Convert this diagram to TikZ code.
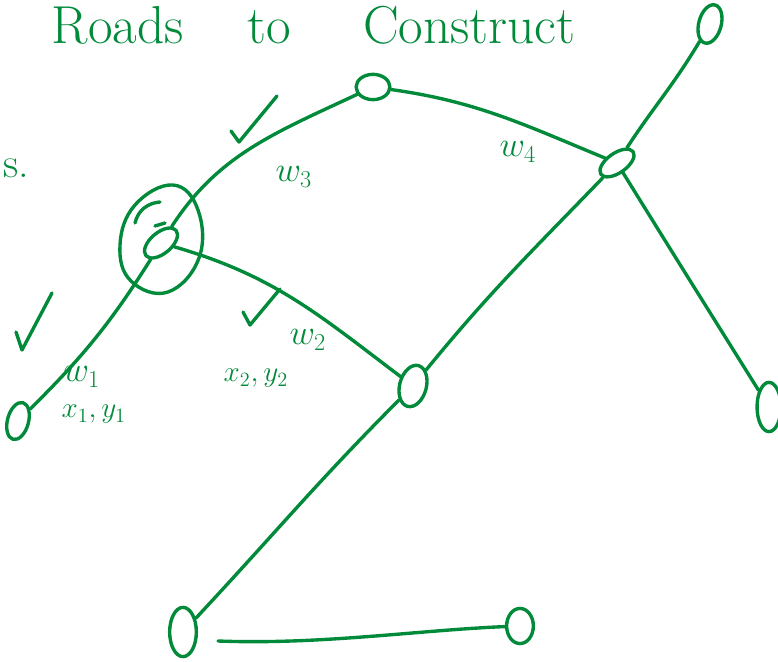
\documentclass[tikz,border=0pt]{standalone}
\usetikzlibrary{shapes.geometric}
\definecolor{ink}{RGB}{0,138,58}
\begin{document}
\begin{tikzpicture}[x=0.025cm,y=-0.025cm,color=ink,
  line width=2.4pt,line cap=round,line join=round,
  vtx/.style={ellipse,draw=ink,line width=2.4pt,inner sep=0pt},
  lbl/.style={text=ink,inner sep=0pt,font=\fontsize{26}{28}\selectfont}]
\useasboundingbox (0,0) rectangle (778,662);
% title
\node[lbl,font=\fontsize{38}{40}\selectfont,anchor=base west] (title) at (50,44) {Roads\hspace{1.6cm}to\hspace{1.8cm}Construct};
\node[lbl,font=\fontsize{30}{32}\selectfont,anchor=base west] (s) at (2,178) {s.};
% vertices
\node[vtx,minimum width=24pt,minimum height=18pt] (A) at (373,87) {};
\node[vtx,minimum width=28pt,minimum height=14pt,rotate=35] (B) at (617,163) {};
\node[vtx,minimum width=16pt,minimum height=28pt,rotate=-15] (C) at (710,24) {};
\node[vtx,minimum width=28pt,minimum height=15pt,rotate=40] (D) at (161,243) {};
\node[vtx,minimum width=19pt,minimum height=30pt,rotate=-15] (E) at (413,386) {};
\node[vtx,minimum width=15pt,minimum height=27pt,rotate=-15] (F) at (18,421) {};
\node[vtx,minimum width=17pt,minimum height=35pt] (G) at (769,407) {};
\node[vtx,minimum width=19pt,minimum height=35pt] (H) at (183,632) {};
\node[vtx,minimum width=19pt,minimum height=25pt] (I) at (520,626) {};
\coordinate (h0) at (218,641);
% ring around D
\draw plot[smooth cycle,tension=0.7] coordinates {(173,185) (198,210) (199,258) (168,292) (131,281) (120,245) (135,205)};
\draw (135,223) .. controls (138,210) and (148,203) .. (160,202);
\draw (155,226) -- (165,223);
% edges
\draw (F) to[out=47,in=232] (D);
\draw (D) to[out=52,in=205] (A);
\draw (A) to[out=-8,in=152] (B);
\draw (B) to[out=50,in=243] (C);
\draw (B) to[out=-62,in=122] (G);
\draw (D) to[out=-22,in=145] (E);
\draw (E) to[out=53,in=222] (B);
\draw (E) to[out=227,in=47] (H);
\draw (h0) .. controls (320,645) and (420,630) .. (I);
% check marks
\draw (231,131) -- (239,142) -- (277,96);
\draw (16,332) -- (22,350) -- (52,293);
\draw (243,312) -- (250,325) -- (280,289);
% labels
\node[lbl,anchor=base west] (w3) at (274,182) {$w_3$};
\node[lbl,anchor=base west] (w4) at (498,157) {$w_4$};
\node[lbl,anchor=base west] (w2) at (288,345) {$w_2$};
\node[lbl,font=\fontsize{20}{22}\selectfont,anchor=base west] (xy2) at (222,382) {$x_2,y_2$};
\node[lbl,font=\fontsize{24}{26}\selectfont,anchor=base west] (w1) at (62,382) {$w_1$};
\node[lbl,font=\fontsize{20}{22}\selectfont,anchor=base west] (xy1) at (60,418) {$x_1,y_1$};
\end{tikzpicture}
\end{document}
